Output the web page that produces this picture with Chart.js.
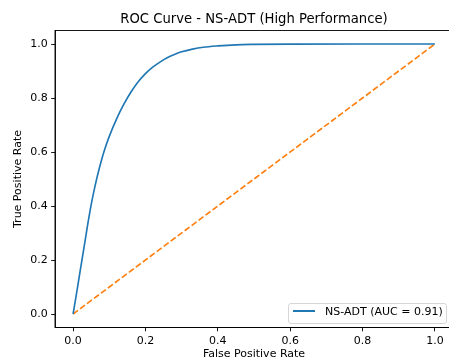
<!DOCTYPE html>
<html><head><meta charset="utf-8">
<script src="https://cdn.jsdelivr.net/npm/chart.js@4.4.0/dist/chart.umd.min.js"></script>
<style>
html,body{margin:0;padding:0;background:#fff;overflow:hidden;width:449px;height:361px;}
#wrap{position:relative;width:460px;height:361px;}
#c{display:block;}
#legend{position:absolute;left:288px;top:303px;width:158.5px;height:20.5px;border:1px solid #d6d6d6;border-radius:3px;background:rgba(255,255,255,0.8);box-sizing:border-box;font:11px "DejaVu Sans";color:#000;}
#legend .sw{position:absolute;left:3.5px;top:6.2px;width:22px;height:1.65px;background:#1f77b4;}
#legend .lbl{position:absolute;left:36px;top:1px;line-height:13px;white-space:nowrap;}
</style></head><body>
<div id="wrap"><canvas id="c" width="460" height="361"></canvas>
<div id="legend"><span class="sw"></span><span class="lbl">NS-ADT (AUC = 0.91)</span></div></div>
<script>
const titleText = 'ROC Curve - NS-ADT (High Performance)';
const xLabel = 'False Positive Rate';
const yLabel = 'True Positive Rate';
const seriesName = 'NS-ADT (AUC = 0.91)';
const fpr = [0, 0.01, 0.02, 0.03, 0.04, 0.05, 0.06, 0.07, 0.08, 0.09, 0.10, 0.12, 0.14, 0.16, 0.18, 0.20, 0.22, 0.24, 0.26, 0.28, 0.30, 0.33, 0.36, 0.40, 0.45, 0.50, 0.60, 0.80, 1.0];
const tpr = [0, 0.08, 0.163, 0.245, 0.328, 0.405, 0.47, 0.527, 0.577, 0.62, 0.658, 0.722, 0.776, 0.822, 0.86, 0.89, 0.914, 0.933, 0.949, 0.961, 0.971, 0.981, 0.988, 0.993, 0.997, 0.9985, 0.9997, 1.0, 1.0];
const diagX = [0, 1];
const diagY = [0, 1];
const xTicks = [0, 0.2, 0.4, 0.6, 0.8, 1.0];
const yTicks = [0, 0.2, 0.4, 0.6, 0.8, 1.0];

Chart.defaults.font.family = '"DejaVu Sans"';
Chart.defaults.font.size = 11;
Chart.defaults.color = '#000';

const framePlugin = {
  id: 'frame',
  afterDatasetsDraw(chart) {
    const a = chart.chartArea, ctx = chart.ctx;
    ctx.save();
    ctx.strokeStyle = '#000';
    ctx.lineWidth = 0.9;
    ctx.strokeRect(a.left, a.top, a.right - a.left, a.bottom - a.top);
    ctx.restore();
  }
};

const tickFont = {family: '"DejaVu Sans"', size: 11};
function axis(ticks, size, isX, label, titlePad) {
  return {
    type: 'linear', min: -0.05, max: 1.05,
    afterBuildTicks: s => { s.ticks = ticks.map(v => ({value: v})); },
    afterFit: s => { if (isX) s.height = size; else s.width = size; },
    ticks: {callback: v => Number(v).toFixed(1), color: '#000', font: tickFont, padding: isX ? 3 : 3.5, maxRotation: 0, autoSkip: false},
    grid: {drawOnChartArea: false, drawTicks: true, tickLength: 3.85, tickColor: '#000', tickWidth: 0.9, color: '#000'},
    border: {display: true, color: '#000', width: 0.9},
    title: {display: true, text: label, color: '#000', font: tickFont, padding: titlePad}
  };
}

new Chart(document.getElementById('c'), {
  type: 'scatter',
  data: {
    datasets: [
      {label: seriesName, data: fpr.map((x, i) => ({x: x, y: tpr[i]})), showLine: true, borderColor: '#1f77b4', backgroundColor: '#1f77b4', borderWidth: 1.65, pointRadius: 0, tension: 0.4, cubicInterpolationMode: 'monotone'},
      {label: 'chance', data: diagX.map((x, i) => ({x: x, y: diagY[i]})), showLine: true, borderColor: '#ff7f0e', backgroundColor: '#ff7f0e', borderWidth: 1.65, borderDash: [6.1, 2.6], pointRadius: 0}
    ]
  },
  options: {
    responsive: false, animation: false,
    layout: {padding: {left: 0, right: 7, top: 0, bottom: 0}},
    plugins: {
      legend: {display: false}, tooltip: {enabled: false},
      title: {display: true, text: titleText, color: '#000', fullSize: false, font: {family: '"DejaVu Sans"', size: 13.2, weight: 'normal'}, padding: {top: 11.6, bottom: 3.06}}
    },
    scales: {
      x: axis(xTicks, 33.5, true, xLabel, {top: 0, bottom: 0}),
      y: axis(yTicks, 55, false, yLabel, {top: 11.7, bottom: 0})
    }
  },
  plugins: [framePlugin]
});
</script>
</body></html>
